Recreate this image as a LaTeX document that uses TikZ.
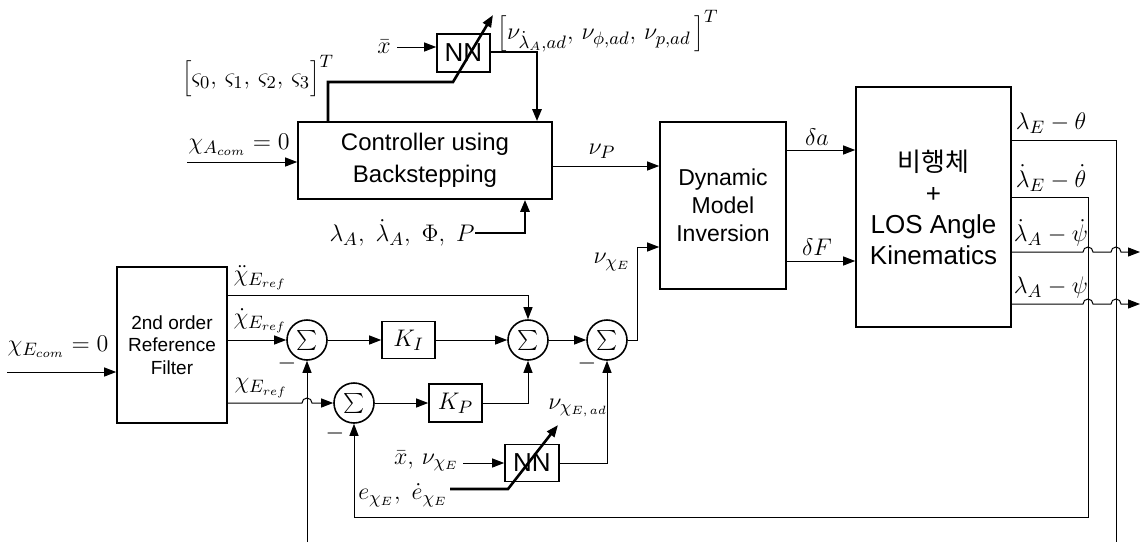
\documentclass[tikz,border=0pt]{standalone}
\usepackage[no-math]{fontspec}
\setmainfont{Liberation Sans}
\newfontfamily\korfont{Noto Sans CJK KR}
\usetikzlibrary{calc, arrows.meta}

\tikzset{
  blk/.style={draw, line width=0.8pt, align=center, inner sep=0pt},
  sumnd/.style={draw, circle, line width=0.8pt, minimum size=20pt, inner sep=0pt},
  lbl/.style={font=\fontsize{12.5}{14}\selectfont, inner sep=0.5pt},
  arr/.style={-{Triangle[length=6pt,width=4.5pt]}},
  thk/.style={line width=1.3pt},
}

\begin{document}
\begin{tikzpicture}[x=0.5pt, y=-0.5pt, line width=0.5pt]
  \useasboundingbox (0,0) rectangle (1142,542);
  % blocks
  \node[blk, minimum width=127pt, minimum height=38.5pt, font=\fontsize{12}{16}\selectfont] (ctrl) at (425,160.5) {Controller using\\Backstepping};
  \node[blk, minimum width=26.5pt, minimum height=19pt, font=\fontsize{13}{13}\selectfont] (nnA) at (463.5,53) {NN};
  \node[blk, minimum width=63pt, minimum height=83.5pt, font=\fontsize{11.5}{14}\selectfont] (dmi) at (723,205.5) {Dynamic\\Model\\Inversion};
  \node[blk, minimum width=77.5pt, minimum height=120pt, font=\fontsize{13}{15.5}\selectfont] (plant) at (933.5,207) {{\korfont 비행체}\\+\\LOS Angle\\Kinematics};
  \node[blk, minimum width=55pt, minimum height=78pt, font=\fontsize{9.5}{11.3}\selectfont] (filt) at (172,345) {2nd order\\Reference\\Filter};
  \node[blk, minimum width=26.5pt, minimum height=18.5pt, font=\fontsize{13}{13}\selectfont] (kI) at (408.5,340) {$K_I$};
  \node[blk, minimum width=26.5pt, minimum height=19pt, font=\fontsize{13}{13}\selectfont] (kP) at (455.5,403) {$K_P$};
  \node[blk, minimum width=27pt, minimum height=18.5pt, font=\fontsize{13}{13}\selectfont] (nnB) at (532,463) {NN};
  % summing junctions
  \node[sumnd] (s1) at (307,340) {\fontsize{14}{14}\selectfont$\sum$};
  \node[sumnd] (s2) at (354,403) {\fontsize{14}{14}\selectfont$\sum$};
  \node[sumnd] (s3) at (528,340) {\fontsize{14}{14}\selectfont$\sum$};
  \node[sumnd] (s4) at (607,340) {\fontsize{14}{14}\selectfont$\sum$};

  % upper loop
  \coordinate (xAin) at (187,162);
  \draw[arr] (xAin) -- (xAin -| ctrl.west);
  \node[lbl] (xAlbl) at (239,145) {$\chi_{A_{com}}=0$};

  \coordinate (zs) at (328,82);
  \coordinate (zk) at (453,82);
  \coordinate (zt) at (493,15);
  \draw[thk, arr] (zs |- ctrl.north) -- (zs) -- (zk) -- (zt);
  \node[lbl] (zlbl) at (258,76) {$\Bigl[\varsigma_0,\,\varsigma_1,\,\varsigma_2,\,\varsigma_3\Bigr]^T$};

  \coordinate (xbA) at (397,47);
  \draw[arr] (xbA) -- (xbA -| nnA.west);
  \node[lbl] (xblblA) at (384,47) {$\bar{x}$};

  \coordinate (nuA) at (537,52);
  \draw[thk, arr] (nnA.east |- nuA) -- (nuA) -- (nuA |- ctrl.north);
  \node[lbl] (nuAlbl) at (608,31) {$\Bigl[\nu_{\dot{\lambda}_A,ad},\,\nu_{\phi,ad},\,\nu_{p,ad}\,\Bigr]^T$};

  \coordinate (lamIn) at (475,233);
  \coordinate (lamUp) at (525,233);
  \draw[thk, arr] (lamIn) -- (lamUp) -- (lamUp |- ctrl.south);
  \node[lbl] (lamlbl) at (402,233) {$\lambda_A,\ \dot{\lambda}_A,\ \Phi,\ P$};

  \coordinate (nuP) at (600,166);
  \draw[arr] (ctrl.east |- nuP) -- (nuP -| dmi.west);
  \node[lbl] (nuPlbl) at (602,151) {$\nu_P$};

  % plant inputs
  \coordinate (da) at (817,150);
  \coordinate (dF) at (817,261);
  \draw[arr] (dmi.east |- da) -- (da -| plant.west);
  \draw[arr] (dmi.east |- dF) -- (dF -| plant.west);
  \node[lbl] (dalbl) at (817,137) {$\delta a$};
  \node[lbl] (dFlbl) at (817,247) {$\delta F$};

  % plant outputs
  \coordinate (oa) at (1116,140);
  \coordinate (oaEnd) at (1116,542);
  \coordinate (ob) at (1088,197);
  \coordinate (obDn) at (1088,517);
  \coordinate (oc) at (1140,252);
  \coordinate (od) at (1140,304);
  \draw (plant.east |- oa) -- (oa) -- (oaEnd);
  \draw[arr] (plant.east |- ob) -- (ob) -- (obDn) -- (obDn -| s2.south) -- (s2.south);
  \draw[arr] (plant.east |- oc) -- ($(ob |- oc)+(-5,0)$) arc[start angle=180, end angle=360, radius=5]
    -- ($(oa |- oc)+(-5,0)$) arc[start angle=180, end angle=360, radius=5] -- (oc);
  \draw[arr] (plant.east |- od) -- ($(ob |- od)+(-5,0)$) arc[start angle=180, end angle=360, radius=5]
    -- ($(oa |- od)+(-5,0)$) arc[start angle=180, end angle=360, radius=5] -- (od);
  \node[lbl] (oalbl) at (1051,123) {$\lambda_E-\theta$};
  \node[lbl] (oblbl) at (1051,178) {$\dot{\lambda}_E-\dot{\theta}$};
  \node[lbl] (oclbl) at (1051,233) {$\dot{\lambda}_A-\dot{\psi}$};
  \node[lbl] (odlbl) at (1051,287) {$\lambda_A-\psi$};

  % lower loop
  \coordinate (xEin) at (7,372);
  \draw[arr] (xEin) -- (xEin -| filt.west);
  \node[lbl] (xElbl) at (58,347) {$\chi_{E_{com}}=0$};

  \coordinate (xdd) at (528,295);
  \draw[arr] (filt.east |- xdd) -- (xdd) -- (s3.north);
  \draw[arr] (filt.east |- s1) -- (s1.west);
  \draw[arr] (filt.east |- s2) -- ($(s1 |- s2)+(-5,0)$) arc[start angle=180, end angle=360, radius=5] -- (s2.west);
  \node[lbl, anchor=west] (xddlbl) at (232,278) {$\ddot{\chi}_{E_{ref}}$};
  \node[lbl, anchor=west] (xdlbl) at (232,321) {$\dot{\chi}_{E_{ref}}$};
  \node[lbl, anchor=west] (xrlbl) at (233,388) {$\chi_{E_{ref}}$};

  \coordinate (s1In) at (307,542);
  \draw[arr] (s1In) -- (s1.south);
  \draw[arr] (s1.east) -- (kI.west);
  \draw[arr] (kI.east) -- (s3.west);
  \draw[arr] (s3.east) -- (s4.west);
  \draw[arr] (s2.east) -- (kP.west);
  \draw[arr] (kP.east) -- (kP.east -| s3.south) -- (s3.south);

  \coordinate (nuE) at (637,247);
  \draw[arr] (s4.east) -- (s4.east -| nuE) -- (nuE) -- (nuE -| dmi.west);
  \node[lbl] (nuElbl) at (612,262) {$\nu_{\chi_E}$};

  \draw[arr] (nnB.east) -- (nnB.east -| s4.south) -- (s4.south);
  \node[lbl] (nuEadlbl) at (578,408) {$\nu_{\chi_{E,\,ad}}$};

  \coordinate (xnB) at (463,463);
  \draw[arr] (xnB) -- (nnB.west);
  \node[lbl, anchor=east] (xnBlbl) at (460,461) {$\bar{x},\,\nu_{\chi_E}$};

  \coordinate (eIn) at (450,489);
  \coordinate (eK) at (508,489);
  \coordinate (eT) at (558,425);
  \draw[thk, arr] (eIn) -- (eK) -- (eT);
  \node[lbl, anchor=east] (elbl) at (449,495) {$e_{\chi_E},\ \dot{e}_{\chi_E}$};

  % minus signs
  \node[lbl] (m1) at (287,363) {$-$};
  \node[lbl] (m4) at (587,363) {$-$};
  \node[lbl] (m2) at (335,433) {$-$};
\end{tikzpicture}
\end{document}
